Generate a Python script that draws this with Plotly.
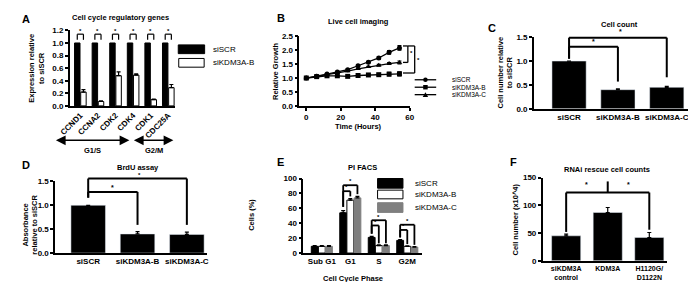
import plotly.graph_objects as go

W, H = 696, 282
FONT = "Liberation Sans, Arial, sans-serif"

# ---------------- data ----------------
a_genes = ["CCND1", "CCNA2", "CDK2", "CDK4", "CDK1", "CDC25A"]
a_siscr = [1.0, 1.0, 1.0, 1.0, 1.0, 1.0]
a_sikdm3a_b = [0.22, 0.07, 0.48, 0.49, 0.10, 0.29]
a_sikdm3a_b_err = [0.04, 0.01, 0.06, 0.02, 0.01, 0.05]

b_hours = [0, 6, 12, 18, 24, 30, 36, 42, 48, 54]
b_siscr = [1.00, 1.06, 1.14, 1.22, 1.30, 1.44, 1.57, 1.72, 1.92, 2.08]
b_siscr_err = [0, 0.01, 0.01, 0.02, 0.02, 0.03, 0.03, 0.04, 0.06, 0.08]
b_sikdm3a_b = [1.00, 1.05, 1.08, 1.08, 1.06, 1.09, 1.11, 1.12, 1.14, 1.15]
b_sikdm3a_b_err = [0, 0.01, 0.01, 0.01, 0.01, 0.02, 0.02, 0.03, 0.06, 0.07]
b_sikdm3a_c = [1.00, 1.06, 1.12, 1.20, 1.25, 1.33, 1.40, 1.46, 1.52, 1.56]
b_sikdm3a_c_err = [0, 0.01, 0.01, 0.01, 0.02, 0.02, 0.02, 0.03, 0.03, 0.05]
b_series = ["siSCR", "siKDM3A-B", "siKDM3A-C"]

c_groups = ["siSCR", "siKDM3A-B", "siKDM3A-C"]
c_values = [1.0, 0.40, 0.45]
c_err = [0.0, 0.02, 0.02]

d_groups = ["siSCR", "siKDM3A-B", "siKDM3A-C"]
d_values = [1.0, 0.40, 0.39]
d_err = [0.0, 0.05, 0.05]

e_phases = ["Sub G1", "G1", "S", "G2M"]
e_siscr = [9, 54, 21, 17]
e_siscr_err = [1, 3, 1.5, 1]
e_sikdm3a_b = [9, 71, 10, 9]
e_sikdm3a_b_err = [1, 2, 1, 0.5]
e_sikdm3a_c = [9, 74, 10, 8]
e_sikdm3a_c_err = [1, 2, 1, 0.5]

f_groups = ["siKDM3A<br>control", "KDM3A", "H1120G/<br>D1122N"]
f_values = [45, 87, 42]
f_err = [3, 9, 9]

# ---------------- panel geometry (pixels) ----------------
PANELS = {
    "A": dict(n=1, px=(52, 160), py=(19, 97), xr=(-0.6, 5.4), yr=(0, 1.2)),
    "B": dict(n=2, px=(287, 400), py=(25, 97), xr=(-4, 60), yr=(0, 2.5)),
    "C": dict(n=3, px=(527, 688), py=(26, 100), xr=(-0.72, 2.5), yr=(0, 1.5)),
    "D": dict(n=4, px=(37, 192), py=(175, 249), xr=(-0.67, 2.4), yr=(0, 1.5)),
    "E": dict(n=5, px=(291, 412), py=(172, 249), xr=(-0.65, 3.5), yr=(0, 100)),
    "F": dict(n=6, px=(536, 663), py=(171, 257), xr=(-0.565, 2.42), yr=(0, 150)),
}


def refs(p):
    n = PANELS[p]["n"]
    s = "" if n == 1 else str(n)
    return "x" + s, "y" + s


def to_paper(p, x, y):
    c = PANELS[p]
    fx = (x - c["xr"][0]) / (c["xr"][1] - c["xr"][0])
    fy = (y - c["yr"][0]) / (c["yr"][1] - c["yr"][0])
    pxv = c["px"][0] + fx * (c["px"][1] - c["px"][0])
    pyv = c["py"][1] - fy * (c["py"][1] - c["py"][0])
    return pxv / W, 1 - pyv / H


def pp(px, py):
    return px / W, 1 - py / H


fig = go.Figure()
shapes = []
annos = []

TICKFONT = dict(family=FONT, size=8, color="black", weight="bold")


def add_axes(p, xkw, ykw):
    c = PANELS[p]
    n = c["n"]
    s = "" if n == 1 else str(n)
    xr, yr = refs(p)
    base = dict(showline=True, linecolor="black", linewidth=1.5, showgrid=False,
                zeroline=False, tickfont=TICKFONT, fixedrange=True,
                tickcolor="black", tickwidth=1.5, ticklen=3)
    xa = dict(base, domain=[c["px"][0] / W, c["px"][1] / W], range=list(c["xr"]),
              anchor=yr)
    xa.update(xkw)
    ya = dict(base, domain=[1 - c["py"][1] / H, 1 - c["py"][0] / H], range=list(c["yr"]),
              anchor=xr, ticks="outside")
    ya.update(ykw)
    fig.update_layout(**{"xaxis" + s: xa, "yaxis" + s: ya})


def err(arr):
    return dict(type="data", array=arr, arrayminus=[0] * len(arr), symmetric=False,
                color="black", thickness=1.2, width=2)


def line(x0, y0, x1, y1, w=1.5):
    shapes.append(dict(type="line", xref="paper", yref="paper", x0=x0, y0=y0, x1=x1, y1=y1,
                       line=dict(color="black", width=w)))


def bracket(p, xs, ytop, ybots, w=1.5):
    pts = [to_paper(p, x, ytop) for x in xs]
    line(pts[0][0], pts[0][1], pts[-1][0], pts[-1][1], w)
    for x, yb in zip(xs, ybots):
        a = to_paper(p, x, ytop)
        b = to_paper(p, x, yb)
        line(a[0], a[1], b[0], b[1], w)


def text(x, y, t, size=8, xanchor="center", yanchor="middle", angle=0, bold=True):
    annos.append(dict(x=x, y=y, xref="paper", yref="paper", text=t, showarrow=False,
                      xanchor=xanchor, yanchor=yanchor, textangle=angle,
                      font=dict(family=FONT, size=size, color="black",
                                weight="bold" if bold else "normal")))


def star(p, x, y, size=7):
    X, Y = to_paper(p, x, y)
    text(X, Y, "*", size=size)


# ---------------- Panel A ----------------
xa_, ya_ = refs("A")
a_x = list(range(len(a_genes)))
fig.add_trace(go.Bar(x=a_x, y=a_siscr, width=0.31, offset=-0.33, marker=dict(color="black", line=dict(color="black", width=1)),
                     xaxis=xa_, yaxis=ya_, showlegend=False, name="siSCR"))
fig.add_trace(go.Bar(x=a_x, y=a_sikdm3a_b, width=0.31, offset=0.02, error_y=err(a_sikdm3a_b_err),
                     marker=dict(color="white", line=dict(color="black", width=1)),
                     xaxis=xa_, yaxis=ya_, showlegend=False, name="siKDM3A-B"))
add_axes("A", dict(tickmode="array", tickvals=a_x, ticktext=a_genes, tickangle=-45, ticks=""),
         dict(tickmode="array", tickvals=[0, 0.2, 0.4, 0.6, 0.8, 1.0, 1.2], tickformat=".1f"))
for g in a_x:
    bracket("A", [g - 0.175, g + 0.175], 1.14, [1.05, 1.05], w=1.2)
    star("A", g, 1.19, size=6)
# legend A
shapes.append(dict(type="rect", xref="paper", yref="paper", x0=163 / W, x1=190 / W, y0=1 - 43 / H, y1=1 - 34 / H,
                   fillcolor="black", line=dict(color="black", width=1)))
shapes.append(dict(type="rect", xref="paper", yref="paper", x0=163.5 / W, x1=189.5 / W, y0=1 - 57 / H, y1=1 - 48 / H,
                   fillcolor="white", line=dict(color="black", width=1)))
text(*pp(197, 38.5), "siSCR", size=8, xanchor="left", bold=False)
text(*pp(197, 52.5), "siKDM3A-B", size=8, xanchor="left", bold=False)
# arrows
annos.append(dict(x=113 / W, y=1 - 132.5 / H, xref="paper", yref="paper", ax=-75, ay=0, text="",
                  showarrow=True, arrowhead=2, startarrowhead=2, arrowside="end+start",
                  arrowwidth=1.5, arrowsize=1.3, arrowcolor="black"))
annos.append(dict(x=158 / W, y=1 - 132.5 / H, xref="paper", yref="paper", ax=-41, ay=0, text="",
                  showarrow=True, arrowhead=2, startarrowhead=2, arrowside="end+start",
                  arrowwidth=1.5, arrowsize=1.3, arrowcolor="black"))
text(*pp(75, 143), "G1/S", size=7.5)
text(*pp(138, 143), "G2/M", size=7.5)
text(*pp(104, 6), "Cell cycle regulatory genes", size=7.5)
text(*pp(18, 58), "Expression relative<br>to siSCR", size=7.5, angle=-90)
text(*pp(1, 7), "A", size=11, xanchor="left")

# ---------------- Panel B ----------------
xb_, yb_ = refs("B")
b_vals = [b_siscr, b_sikdm3a_b, b_sikdm3a_c]
b_errs = [b_siscr_err, b_sikdm3a_b_err, b_sikdm3a_c_err]
b_syms = ["circle", "square", "triangle-up"]
for name, vals, e, sym in zip(b_series, b_vals, b_errs, b_syms):
    fig.add_trace(go.Scatter(x=b_hours, y=vals, mode="lines+markers", name=name,
                             line=dict(color="black", width=1.3),
                             marker=dict(symbol=sym, size=5, color="black"),
                             error_y=dict(type="data", array=e, color="black", thickness=1.2, width=2),
                             xaxis=xb_, yaxis=yb_, showlegend=False, cliponaxis=False))
add_axes("B", dict(tickmode="array", tickvals=[0, 20, 40, 60], ticks="outside"),
         dict(tickmode="array", tickvals=[0, 0.5, 1.0, 1.5, 2.0, 2.5], tickformat=".1f"))


def bx(px):
    c = PANELS["B"]
    return c["xr"][0] + (px - c["px"][0]) / (c["px"][1] - c["px"][0]) * (c["xr"][1] - c["xr"][0])


x393, x398, x405 = bx(393), bx(398), bx(405)
for (xa0, xa1, ya0, ya1) in [(x393, x398, 2.15, 2.15), (x398, x398, 2.15, 1.56), (x393, x398, 1.56, 1.56),
                             (x398, x405, 2.15, 2.15), (x405, x405, 2.15, 1.18), (x393, x405, 1.18, 1.18)]:
    p0 = to_paper("B", xa0, ya0)
    p1 = to_paper("B", xa1, ya1)
    line(p0[0], p0[1], p1[0], p1[1], 1.3)
star("B", bx(402), 1.90, size=6)
star("B", bx(409), 1.66, size=6)
# legend B
for i, (name, sym) in enumerate(zip(b_series, b_syms)):
    yy = 70 + 7.7 * i
    line(405 / W, 1 - yy / H, 427 / W, 1 - yy / H, 1.3)
    cx, cy = 416, yy
    if sym == "circle":
        shapes.append(dict(type="circle", xref="paper", yref="paper", x0=(cx - 2.3) / W, x1=(cx + 2.3) / W,
                           y0=1 - (cy + 2.3) / H, y1=1 - (cy - 2.3) / H, fillcolor="black", line=dict(width=0)))
    elif sym == "square":
        shapes.append(dict(type="rect", xref="paper", yref="paper", x0=(cx - 2.3) / W, x1=(cx + 2.3) / W,
                           y0=1 - (cy + 2.3) / H, y1=1 - (cy - 2.3) / H, fillcolor="black", line=dict(width=0)))
    else:
        shapes.append(dict(type="path", xref="paper", yref="paper",
                           path="M %f %f L %f %f L %f %f Z" % ((cx - 2.8) / W, 1 - (cy + 2.3) / H,
                                                              (cx + 2.8) / W, 1 - (cy + 2.3) / H,
                                                              cx / W, 1 - (cy - 2.6) / H),
                           fillcolor="black", line=dict(width=0)))
    text(*pp(441, yy), name, size=6.5, xanchor="left", bold=False)
text(*pp(347, 10), "Live cell imaging", size=7.5)
text(*pp(347, 118), "Time (Hours)", size=7.5)
text(*pp(262, 61), "Relative Growth", size=7.5, angle=-90)
text(*pp(262, 6), "B", size=11, xanchor="left")

# ---------------- Panel C ----------------
xc_, yc_ = refs("C")
c_x = list(range(len(c_groups)))
fig.add_trace(go.Bar(x=c_x, y=c_values, width=0.7, error_y=err(c_err), marker=dict(color="black"),
                     xaxis=xc_, yaxis=yc_, showlegend=False))
add_axes("C", dict(tickmode="array", tickvals=c_x, ticktext=c_groups, ticks=""),
         dict(tickmode="array", tickvals=[0, 0.5, 1.0, 1.5], tickformat=".1f"))
bracket("C", [0, 2], 1.49, [1.05, 0.66], w=2)
bracket("C", [0, 1], 1.30, [1.05, 0.57], w=2)
star("C", 0.5, 1.40)
star("C", 1.05, 1.62)
text(*pp(615, 13), "Cell count", size=7.5)
text(*pp(498, 63), "Cell number relative<br>to siSCR", size=7.5, angle=-90)
text(*pp(478, 17), "C", size=11, xanchor="left")

# ---------------- Panel D ----------------
xd_, yd_ = refs("D")
d_x = list(range(len(d_groups)))
fig.add_trace(go.Bar(x=d_x, y=d_values, width=0.7, error_y=err(d_err), marker=dict(color="black"),
                     xaxis=xd_, yaxis=yd_, showlegend=False))
add_axes("D", dict(tickmode="array", tickvals=d_x, ticktext=d_groups, ticks=""),
         dict(tickmode="array", tickvals=[0, 0.5, 1.0, 1.5], tickformat=".1f"))
bracket("D", [0, 2], 1.56, [1.16, 0.59], w=2)
bracket("D", [0, 1], 1.28, [1.16, 0.59], w=2)
star("D", 0.5, 1.38)
star("D", 1.03, 1.63, size=6)
text(*pp(122, 161), "BrdU assay", size=7.5)
text(*pp(12, 220), "Absorbance<br>relative to siSCR", size=7.5, angle=-90)
text(*pp(1, 158), "D", size=11, xanchor="left")

# ---------------- Panel E ----------------
xe_, ye_ = refs("E")
e_x = list(range(len(e_phases)))
e_specs = [("siSCR", e_siscr, e_siscr_err, "black", "black", -0.37),
           ("siKDM3A-B", e_sikdm3a_b, e_sikdm3a_b_err, "white", "black", -0.12),
           ("siKDM3A-C", e_sikdm3a_c, e_sikdm3a_c_err, "#7f7f7f", "#7f7f7f", 0.13)]
for name, vals, e, fc, lc, off in e_specs:
    fig.add_trace(go.Bar(x=e_x, y=vals, width=0.24, offset=off, error_y=err(e),
                         marker=dict(color=fc, line=dict(color=lc, width=1)), name=name,
                         xaxis=xe_, yaxis=ye_, showlegend=False))
add_axes("E", dict(tickmode="array", tickvals=e_x, ticktext=e_phases, ticks=""),
         dict(tickmode="array", tickvals=[0, 20, 40, 60, 80, 100]))
for g, inner, outer, bots in [(1, 83, 91, (62, 76, 79)), (2, 37, 44, (26, 13, 13)), (3, 31, 38, (21, 12, 11))]:
    bracket("E", [g - 0.25, g + 0.25], outer, [bots[0], bots[2]], w=1.8)
    bracket("E", [g - 0.25, g], inner, [bots[0], bots[1]], w=1.8)
    star("E", g - 0.12, inner + 5, size=6)
    star("E", g, outer + 5, size=6)
# legend E
for i, (name, vals, e, fc, lc, off) in enumerate(e_specs):
    y0, y1 = [(172, 182), (184, 193), (197, 207)][i]
    shapes.append(dict(type="rect", xref="paper", yref="paper", x0=367 / W, x1=393 / W,
                       y0=1 - y1 / H, y1=1 - y0 / H, fillcolor=fc, line=dict(color=lc, width=1)))
    text(*pp(403, (y0 + y1) / 2), name, size=8, xanchor="left", bold=False)
text(*pp(352, 161), "PI FACS", size=7.5)
text(*pp(342, 275), "Cell Cycle Phase", size=7.5)
text(*pp(238, 210), "Cells (%)", size=7.5, angle=-90)
text(*pp(262, 155), "E", size=11, xanchor="left")

# ---------------- Panel F ----------------
xf_, yf_ = refs("F")
f_x = list(range(len(f_groups)))
fig.add_trace(go.Bar(x=f_x, y=f_values, width=0.7, error_y=err(f_err), marker=dict(color="black"),
                     xaxis=xf_, yaxis=yf_, showlegend=False))
add_axes("F", dict(tickmode="array", tickvals=f_x, ticktext=f_groups, ticks="",
                   tickfont=dict(family=FONT, size=7, color="black", weight="bold"),
                   ticklabelstandoff=0),
         dict(tickmode="array", tickvals=[0, 50, 100, 150]))
bracket("F", [0, 2], 123, [52, 56], w=2)
p0 = to_paper("F", 1, 123)
p1 = to_paper("F", 1, 143)
line(p0[0], p0[1], p1[0], p1[1], 2)
star("F", 0.5, 138)
star("F", 1.5, 138)
text(*pp(602, 163), "RNAi rescue cell counts", size=7.5)
text(*pp(508, 214), "Cell number (x10^4)", size=7.5, angle=-90)
text(*pp(500, 155), "F", size=11, xanchor="left")

fig.update_layout(width=W, height=H, margin=dict(l=0, r=0, t=0, b=0),
                  paper_bgcolor="white", plot_bgcolor="white", barmode="overlay",
                  shapes=shapes, annotations=annos, showlegend=False,
                  font=dict(family=FONT, color="black"))
fig.write_html("out.html", config={"displayModeBar": False})
